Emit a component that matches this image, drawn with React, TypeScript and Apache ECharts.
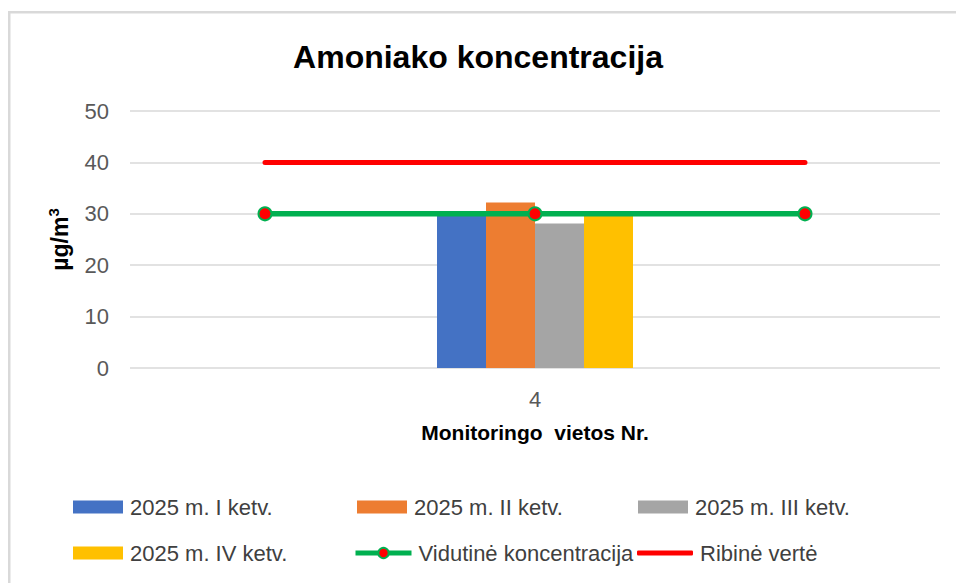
import React, { useEffect, useRef } from "react";
import * as echarts from "echarts";

const categories = ["4"];
const seriesNames = ["2025 m. I ketv.", "2025 m. II ketv.", "2025 m. III ketv.", "2025 m. IV ketv."];
const q1 = [29.7];
const q2 = [32.2];
const q3 = [28.1];
const q4 = [29.8];
const avgName = "Vidutinė koncentracija";
const limitName = "Ribinė vertė";
const lineX = [1, 2, 3];
const avgValues = [30, 30, 30];
const limitValues = [40, 40, 40];
const yTicks = [0, 10, 20, 30, 40, 50];

const barColors = ["#4472C4", "#ED7D31", "#A5A5A5", "#FFC000"];
const FONT = "'Liberation Sans', Arial, sans-serif";

export default function App() {
  const ref = useRef<HTMLDivElement>(null);
  useEffect(() => {
    if (!ref.current) return;
    const chart = echarts.init(ref.current, null, { renderer: "svg" });
    const barData = [q1, q2, q3, q4];
    const legendPos = [
      { left: 73, top: 496 },
      { left: 357, top: 496 },
      { left: 638, top: 496 },
      { left: 73, top: 542 },
      { left: 353, top: 542 },
      { left: 637, top: 542 },
    ];
    const allNames = [...seriesNames, avgName, limitName];
    const legends = allNames.map((n, i) => {
      const base: any = {
        show: true,
        left: legendPos[i].left,
        top: legendPos[i].top,
        padding: 0,
        itemGap: 0,
        selectedMode: false,
        textStyle: { fontFamily: FONT, fontSize: 22, color: "#404040", padding: [0, 0, 0, 2] },
      };
      if (i < 4) {
        base.data = [{ name: n, icon: "rect" }];
        base.itemWidth = 50;
        base.itemHeight = 13;
      } else if (i === 4) {
        base.data = [n];
        base.itemWidth = 56;
        base.itemHeight = 13;
        base.lineStyle = { width: 5 };
      } else {
        base.data = [{ name: n, icon: "roundRect" }];
        base.itemWidth = 56;
        base.itemHeight = 5;
      }
      return base;
    });
    chart.setOption({
      animation: false,
      backgroundColor: "#ffffff",
      title: {
        text: "Amoniako koncentracija",
        left: "center",
        top: 41,
        textStyle: { fontFamily: FONT, fontSize: 32, fontWeight: "bold", color: "#000000" },
        padding: 0,
      },
      graphic: [
        {
          type: "rect",
          shape: { x: 8, y: 11, width: 960, height: 2.5 },
          style: { fill: "#d9d9d9" },
          silent: true,
        },
        {
          type: "rect",
          shape: { x: 8, y: 11, width: 2.5, height: 600 },
          style: { fill: "#d9d9d9" },
          silent: true,
        },
      ],
      legend: legends,
      grid: { left: 130, right: 16, top: 111, bottom: 215, containLabel: false },
      xAxis: [
        {
          type: "category",
          data: categories,
          axisLine: { show: false },
          axisTick: { show: false },
          axisLabel: { fontFamily: FONT, fontSize: 22, color: "#595959", margin: 20 },
          name: "Monitoringo  vietos Nr.",
          nameLocation: "middle",
          nameGap: 54,
          nameTextStyle: { fontFamily: FONT, fontSize: 21, fontWeight: "bold", color: "#000000" },
        },
        { type: "value", min: 0.5, max: 3.5, show: false },
      ],
      yAxis: {
        type: "value",
        min: yTicks[0],
        max: yTicks[yTicks.length - 1],
        interval: 10,
        axisLine: { show: false },
        axisTick: { show: false },
        axisLabel: { fontFamily: FONT, fontSize: 22, color: "#595959", margin: 21 },
        splitLine: { lineStyle: { color: "#d9d9d9", width: 1.5 } },
        name: "µg/m{sup|3}",
        nameLocation: "middle",
        nameGap: 56,
        nameRotate: 90,
        nameTextStyle: {
          fontFamily: FONT,
          fontSize: 23,
          fontWeight: "bold",
          color: "#000000",
          lineHeight: 28,
          rich: {
            sup: {
              fontFamily: FONT,
              fontSize: 15,
              fontWeight: "bold",
              color: "#000000",
              verticalAlign: "top",
              lineHeight: 28,
            },
          },
        },
      },
      series: [
        ...seriesNames.map((n, i) => ({
          name: n,
          type: "bar",
          data: barData[i],
          barWidth: 49,
          barGap: "0%",
          itemStyle: { color: barColors[i] },
          z: 2,
        })),
        {
          name: avgName,
          type: "line",
          xAxisIndex: 1,
          data: lineX.map((x, i) => [x, avgValues[i]]),
          lineStyle: { color: "#00B050", width: 5.5 },
          symbol: "circle",
          symbolSize: 13,
          itemStyle: { color: "#FF0000", borderColor: "#00B050", borderWidth: 2 },
          z: 4,
        },
        {
          name: limitName,
          type: "line",
          xAxisIndex: 1,
          data: lineX.map((x, i) => [x, limitValues[i]]),
          lineStyle: { color: "#FF0000", width: 5, cap: "round" },
          symbol: "none",
          itemStyle: { color: "#FF0000" },
          z: 4,
        },
      ],
    });
    return () => chart.dispose();
  }, []);
  return (
    <div
      ref={ref}
      style={{ position: "fixed", left: 0, top: 0, width: 956, height: 583, background: "#fff" }}
    />
  );
}
